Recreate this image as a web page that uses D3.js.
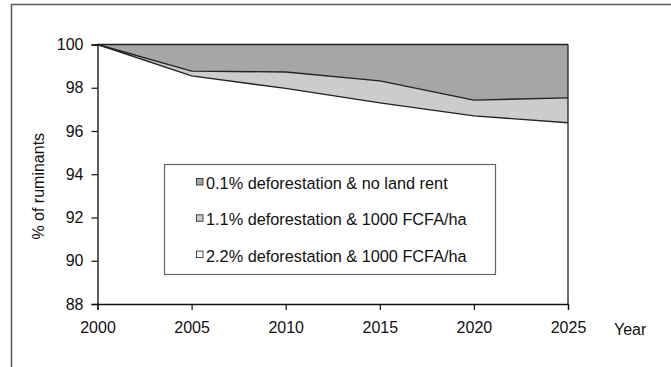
<!DOCTYPE html>
<html>
<head>
<meta charset="utf-8">
<script src="https://cdn.jsdelivr.net/npm/d3@7"></script>
<style>
  html, body { margin: 0; padding: 0; background: #fff; }
  svg { display: block; font-family: "Liberation Sans", Arial, sans-serif; }
</style>
</head>
<body>
<svg id="chart" width="671" height="367"></svg>
<script>
// Share of ruminants (%) under three deforestation / land-rent scenarios
const years = [2000, 2005, 2010, 2015, 2020, 2025];
const scenarioNames = [
  "0.1% deforestation & no land rent",
  "1.1% deforestation & 1000 FCFA/ha",
  "2.2% deforestation & 1000 FCFA/ha"
];
const noRent = [100, 100, 100, 100, 100, 100];
const rent11 = [100, 98.77, 98.73, 98.32, 97.43, 97.53];
const rent22 = [100, 98.55, 97.97, 97.30, 96.70, 96.38];
const yTicks = [88, 90, 92, 94, 96, 98, 100];
const fills = ["#a6a6a6", "#cccccc", "#ffffff"];

const svg = d3.select("#chart");
const margin = { left: 97.5, right: 103, top: 44.5, bottom: 63 };
const W = 671, H = 367;

// outer chart frame (right/bottom edges run past the picture)
svg.append("path")
  .attr("d", "M11.5,380 V4.5 H680")
  .attr("fill", "none")
  .attr("stroke", "#5a5a5a")
  .attr("stroke-width", 1.5);

const x = d3.scaleLinear().domain([2000, 2025]).range([margin.left, W - margin.right]);
const y = d3.scaleLinear().domain([88, 100]).range([H - margin.bottom, margin.top]);

const series = [noRent, rent11, rent22];
const area = d3.area()
  .x((d, i) => x(years[i]))
  .y0(y(88))
  .y1(d => y(d));
const line = d3.line()
  .x((d, i) => x(years[i]))
  .y(d => y(d));

// overlapping areas, drawn back to front
series.forEach((s, k) => {
  svg.append("path")
    .attr("d", area(s))
    .attr("fill", fills[k])
    .attr("stroke", "none");
});
series.forEach((s, k) => {
  svg.append("path")
    .attr("d", line(s))
    .attr("fill", "none")
    .attr("stroke", "#222")
    .attr("stroke-width", k === 0 ? 1.3 : 1.4);
});
// right edge of the plotted areas
svg.append("line")
  .attr("x1", x(2025)).attr("x2", x(2025))
  .attr("y1", y(100)).attr("y2", y(88))
  .attr("stroke", "#222").attr("stroke-width", 1.3);

// axes
const yAxis = d3.axisLeft(y).tickValues(yTicks).tickSize(6).tickPadding(8).tickFormat(d3.format("d"));
const xAxis = d3.axisBottom(x).tickValues(years).tickSize(6).tickPadding(12).tickFormat(d3.format("d"));

const gy = svg.append("g").attr("transform", `translate(${margin.left},0)`).call(yAxis);
const gx = svg.append("g").attr("transform", `translate(0,${y(88)})`).call(xAxis);
[gy, gx].forEach(g => {
  g.select(".domain").attr("stroke", "#111").attr("stroke-width", 1.3);
  g.selectAll(".tick line").attr("stroke", "#111").attr("stroke-width", 1.2);
  g.selectAll(".tick text").attr("fill", "#111").style("font-size", "16px")
    .style("font-family", "'Liberation Sans', Arial, sans-serif");
});

// axis titles
svg.append("text")
  .attr("transform", `translate(44,${(y(100) + y(88)) / 2 + 12}) rotate(-90)`)
  .attr("text-anchor", "middle")
  .attr("fill", "#111")
  .style("font-size", "16px")
  .text("% of ruminants");
svg.append("text")
  .attr("x", 614).attr("y", 335)
  .attr("fill", "#111")
  .style("font-size", "16px")
  .text("Year");

// legend
const lg = svg.append("g");
lg.append("rect")
  .attr("x", 164.5).attr("y", 164.5).attr("width", 331).attr("height", 110)
  .attr("fill", "#fff").attr("stroke", "#666").attr("stroke-width", 1.2);
scenarioNames.forEach((name, i) => {
  const by = 189 + i * 36.3;
  lg.append("rect")
    .attr("x", 196.5).attr("y", by - 10.5).attr("width", 6.5).attr("height", 6.5)
    .attr("fill", fills[i]).attr("stroke", "#333").attr("stroke-width", 0.9);
  lg.append("text")
    .attr("x", 206).attr("y", by)
    .attr("fill", "#111")
    .style("font-size", "16.3px")
    .text(name);
});
</script>
</body>
</html>
